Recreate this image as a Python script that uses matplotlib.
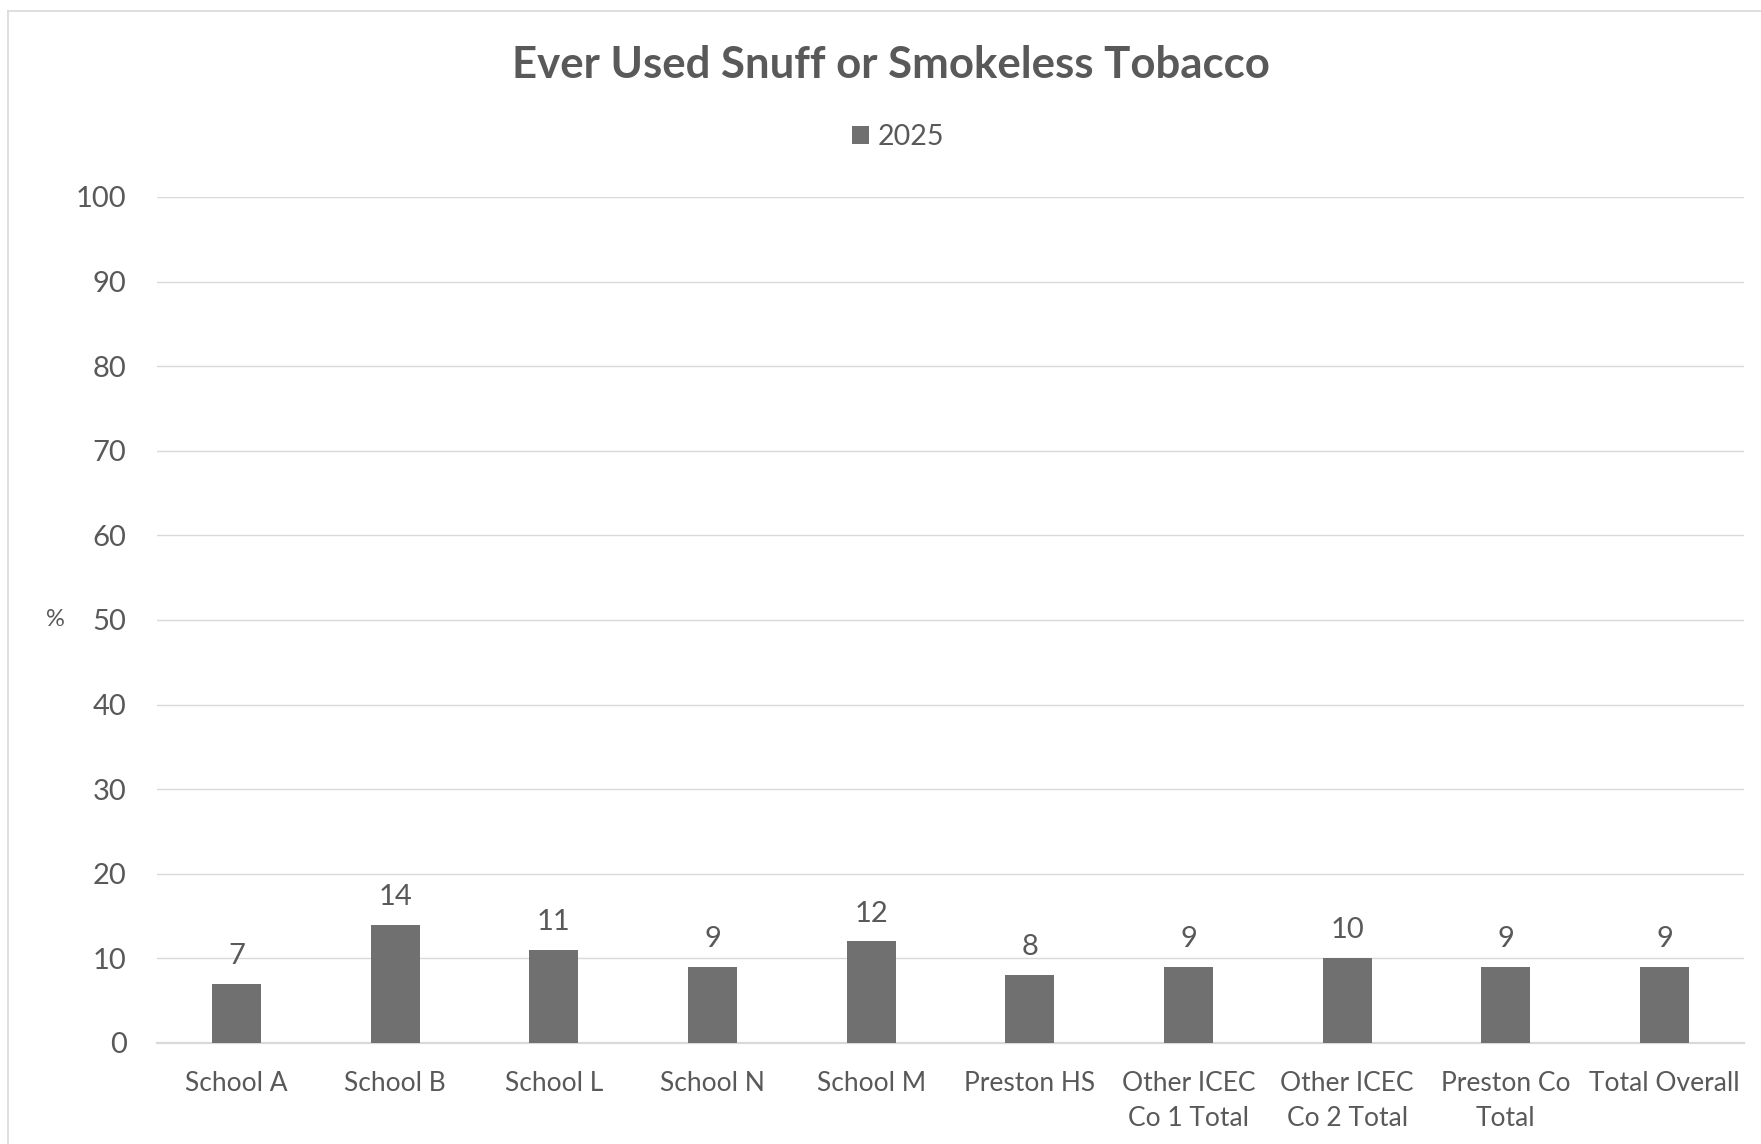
import matplotlib.pyplot as plt
import numpy as np
from matplotlib.lines import Line2D

# data
schools = ['School A', 'School B', 'School L', 'School N', 'School M', 'Preston HS',
           'Other ICEC\nCo 1 Total', 'Other ICEC\nCo 2 Total', 'Preston Co\nTotal', 'Total Overall']
pct_2025 = [7, 14, 11, 9, 12, 8, 9, 10, 9, 9]
yticks = [0, 10, 20, 30, 40, 50, 60, 70, 80, 90, 100]

txt_col = '#595959'
bar_col = '#707070'
grid_col = '#d9d9d9'

plt.rcParams['font.family'] = ['Lato', 'DejaVu Sans']

fig = plt.figure(figsize=(17.61, 11.44), dpi=100)
ax = fig.add_axes([0.0892, 0.0883, 0.9011, 0.7395])

x = np.arange(len(schools))
bars = ax.bar(x, pct_2025, width=0.31, color=bar_col, label='2025', zorder=3)

for xi, v in zip(x, pct_2025):
    ax.text(xi, v + 3.3, str(v), ha='center', va='center', fontsize=21, color=txt_col)

ax.set_xlim(-0.5, len(schools) - 0.5)
ax.set_ylim(0, 100)
ax.set_yticks(yticks)
ax.set_yticklabels([str(t) for t in yticks])
ax.set_xticks(x)
ax.set_xticklabels(schools, linespacing=1.5)
ax.tick_params(axis='y', length=0, pad=22, labelsize=21, labelcolor=txt_col)
ax.tick_params(axis='x', length=0, pad=20.5, labelsize=19, labelcolor=txt_col)

ax.grid(axis='y', color=grid_col, linewidth=1, zorder=0)
for s in ['top', 'right', 'left']:
    ax.spines[s].set_visible(False)
ax.spines['bottom'].set_color(grid_col)
ax.spines['bottom'].set_linewidth(1.6)

fig.text(0.506, 1 - 65 / 1144, 'Ever Used Snuff or Smokeless Tobacco', ha='center', va='center',
         fontsize=31.5, fontweight='bold', color=txt_col)
fig.text(55 / 1761, 1 - 620 / 1144, '%', ha='center', va='center', fontsize=17, color=txt_col)

ax.legend(loc='center', bbox_to_anchor=(0.510, 1 - 137 / 1144), bbox_transform=fig.transFigure,
          frameon=False, fontsize=20.5, labelcolor=txt_col, handlelength=0.6, handleheight=0.6,
          handletextpad=0.3)

# outer chart border (top and left visible)
fig.add_artist(Line2D([8 / 1761, 1], [1 - 11 / 1144, 1 - 11 / 1144], color=grid_col, lw=1.2))
fig.add_artist(Line2D([8 / 1761, 8 / 1761], [0, 1 - 11 / 1144], color=grid_col, lw=1.2))

fig.savefig('out.png', dpi=100)
